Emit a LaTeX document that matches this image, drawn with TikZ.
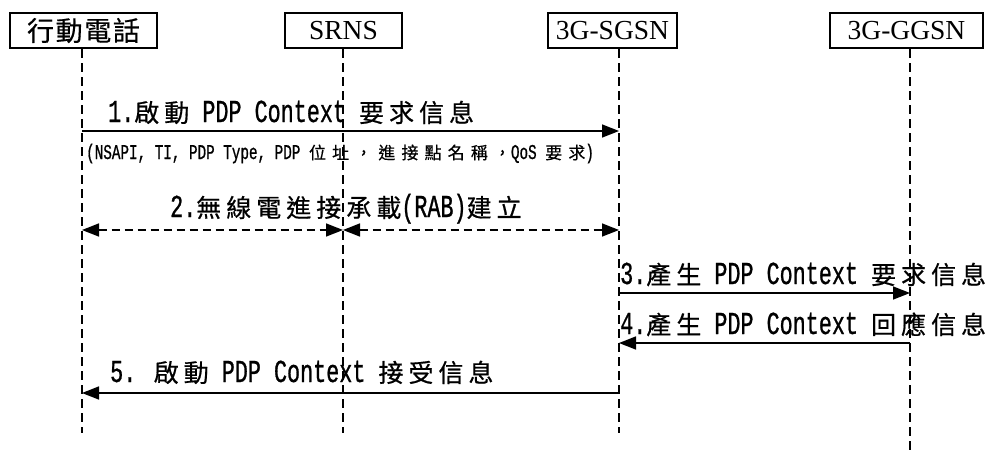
\documentclass[tikz,border=0pt]{standalone}
\usepackage{fontspec}
\usetikzlibrary{arrows.meta}
\setmainfont{Liberation Serif}
\newfontfamily\cjkfont{Noto Sans CJK TC}[LetterSpace=20, FakeBold=0.6]
\newfontfamily\cjkboxfont{Noto Sans CJK TC}[LetterSpace=6, FakeBold=0.4]
\newfontfamily\cjksmallfont{Noto Sans CJK TC}[LetterSpace=36, FakeBold=0.4]
\newfontfamily\msgfont{Liberation Mono}[FakeStretch=0.68, FakeBold=0.8]
% CJK runs inside the mixed message labels
\newcommand\zh[1]{{\cjkfont\fontsize{25}{27}\selectfont #1}}
\newcommand\zhs[1]{{\cjksmallfont\fontsize{17}{19}\selectfont #1}}

\begin{document}
\begin{tikzpicture}[x=1pt,y=-1pt,
  actor/.style={draw, line width=1.8pt, minimum height=35pt, inner sep=0pt,
    font=\fontsize{27.5}{30}\selectfont},
  life/.style={line width=1.4pt, dash pattern=on 9pt off 5pt},
  tip/.tip={Triangle[length=17pt,width=13pt]},
  msg/.style={line width=1.6pt, -tip},
  rab/.style={line width=1.6pt, dash pattern=on 8pt off 5pt, tip-tip},
  lbl/.style={anchor=base west, inner sep=0pt, font=\msgfont\fontsize{32}{34}\selectfont},
  sub/.style={anchor=base west, inner sep=0pt, font=\msgfont\fontsize{21}{23}\selectfont}]

\useasboundingbox (0,0) rectangle (998,450);

% participants
\node[actor, minimum width=147pt] (ms)   at (83.5,30.5)  {\cjkboxfont\fontsize{27}{29}\selectfont 行動電話};
\node[actor, minimum width=117pt] (srns) at (343.5,30.5) {SRNS};
\node[actor, minimum width=129pt] (sgsn) at (612.5,30.5) {3G-SGSN};
\node[actor, minimum width=153pt] (ggsn) at (906.5,30.5) {3G-GGSN};

% lifelines
\coordinate (msT) at (82,49);  \coordinate (msB) at (82,433);
\coordinate (srT) at (343,49); \coordinate (srB) at (343,433);
\coordinate (sgT) at (619,49); \coordinate (sgB) at (619,433);
\coordinate (ggT) at (910,49); \coordinate (ggB) at (910,450);
\draw[life] (msT) -- (msB);
\draw[life] (srT) -- (srB);
\draw[life] (sgT) -- (sgB);
\draw[life] (ggT) -- (ggB);

% message anchors on the lifelines
\coordinate (m1a) at (82,131);  \coordinate (m1b) at (619,131);
\coordinate (m2a) at (82,230);  \coordinate (m2s) at (343,230); \coordinate (m2b) at (619,230);
\coordinate (m3a) at (619,293); \coordinate (m3b) at (910,293);
\coordinate (m4a) at (910,343); \coordinate (m4b) at (619,343);
\coordinate (m5a) at (619,393); \coordinate (m5b) at (82,393);

\draw[msg] (m1a) -- (m1b);
\draw[rab] (m2a) -- (m2s);
\draw[rab] (m2s) -- (m2b);
\draw[msg] (m3a) -- (m3b);
\draw[msg] (m4a) -- (m4b);
\draw[msg] (m5a) -- (m5b);

% message labels
\node[lbl] (t1)  at (108,122) {1.\zh{啟動} PDP Context \zh{要求信息}};
\node[sub] (t1s) at (86,159)  {(NSAPI, TI, PDP Type, PDP \zhs{位址，進接點名稱，}QoS \zhs{要求})};
\node[lbl] (t2)  at (170,217) {2.\zh{無線電進接承載}(RAB)\zh{建立}};
\node[lbl] (t3)  at (620,284) {3.\zh{產生} PDP Context \zh{要求信息}};
\node[lbl] (t4)  at (620,334) {4.\zh{產生} PDP Context \zh{回應信息}};
\node[lbl] (t5)  at (110,382) {5. \zh{啟動} PDP Context \zh{接受信息}};
\end{tikzpicture}
\end{document}
